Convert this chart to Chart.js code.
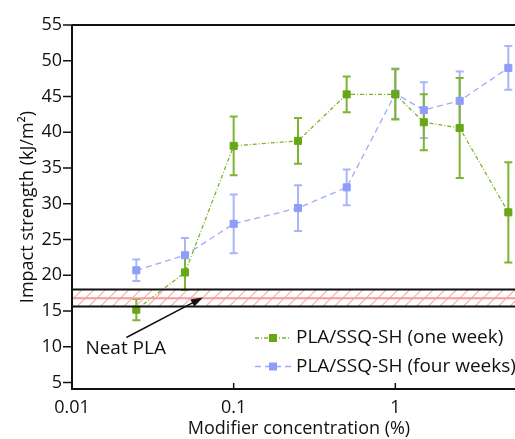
<!DOCTYPE html>
<html>
<head>
<meta charset="utf-8">
<script src="https://cdn.jsdelivr.net/npm/chart.js@4"></script>
<style>
  html, body { margin: 0; padding: 0; background: #fff; overflow: hidden; }
  #wrap { width: 515px; height: 439px; overflow: hidden; }
</style>
</head>
<body>
<div id="wrap"><canvas id="impactChart" width="527" height="439"></canvas></div>
<script>
// datos
const concentrations = [0.025, 0.05, 0.1, 0.25, 0.5, 1, 1.5, 2.5, 5];
const oneWeek = [15.2, 20.4, 38.1, 38.8, 45.3, 45.3, 41.4, 40.6, 28.8];
const oneWeekErr = [1.5, 2.45, 4.1, 3.2, 2.5, 3.5, 3.9, 7.0, 7.0];
const fourWeeks = [20.7, 22.8, 27.2, 29.4, 32.3, 45.4, 43.1, 44.4, 49.0];
const fourWeeksErr = [1.5, 2.4, 4.1, 3.2, 2.5, 3.5, 3.9, 4.1, 3.05];
const seriesLabels = ["PLA/SSQ-SH (one week)", "PLA/SSQ-SH (four weeks)"];
const xTicks = [0.01, 0.1, 1];
const yTicks = [5, 10, 15, 20, 25, 30, 35, 40, 45, 50, 55];
const neatBand = [15.65, 16.8, 18.0]; // low, mean, high
const neatLabel = "Neat PLA";

const FONT = "'Open Sans', sans-serif";
const green = "#68a616";
const greenBar = "#7db532";
const blue = "#8e9ef8";
const blueBar = "#aab5f9";

function toPoints(xs, ys) {
  return xs.map((x, i) => ({ x: x, y: ys[i] }));
}

// barras de error, banda y ejes
const extras = {
  id: "extras",
  beforeDatasetsDraw(chart) {
    const { ctx, scales: { x, y } } = chart;
    const drawErr = (vals, errs, color) => {
      ctx.save();
      ctx.strokeStyle = color;
      ctx.lineWidth = 2;
      vals.forEach((v, i) => {
        const px = x.getPixelForValue(concentrations[i]);
        const top = y.getPixelForValue(v + errs[i]);
        const bot = y.getPixelForValue(v - errs[i]);
        ctx.beginPath();
        ctx.moveTo(px, top); ctx.lineTo(px, bot);
        ctx.moveTo(px - 4, top); ctx.lineTo(px + 4, top);
        ctx.moveTo(px - 4, bot); ctx.lineTo(px + 4, bot);
        ctx.stroke();
      });
      ctx.restore();
    };
    drawErr(fourWeeks, fourWeeksErr, blueBar);
    drawErr(oneWeek, oneWeekErr, greenBar);
  },
  afterDatasetsDraw(chart) {
    const { ctx, chartArea: a, scales: { x, y } } = chart;
    // banda Neat PLA
    const yLo = y.getPixelForValue(neatBand[0]);
    const yMid = y.getPixelForValue(neatBand[1]);
    const yHi = y.getPixelForValue(neatBand[2]);
    ctx.save();
    ctx.beginPath();
    ctx.rect(a.left, yHi, a.right - a.left, yLo - yHi);
    ctx.clip();
    ctx.strokeStyle = "#f8b0b0";
    ctx.lineWidth = 1.3;
    for (let sx = a.left - 30; sx < a.right + 30; sx += 11.7) {
      ctx.beginPath();
      ctx.moveTo(sx, yLo);
      ctx.lineTo(sx + (yLo - yHi), yHi);
      ctx.stroke();
    }
    ctx.restore();
    ctx.save();
    ctx.strokeStyle = "#f59a9a";
    ctx.lineWidth = 2;
    ctx.beginPath();
    ctx.moveTo(a.left, yMid); ctx.lineTo(a.right, yMid);
    ctx.stroke();
    ctx.strokeStyle = "#111";
    ctx.lineWidth = 2;
    ctx.beginPath();
    ctx.moveTo(a.left, yHi); ctx.lineTo(a.right, yHi);
    ctx.moveTo(a.left, yLo); ctx.lineTo(a.right, yLo);
    ctx.stroke();

    // flecha
    const tx = x.getPixelForValue(0.0217), ty = y.getPixelForValue(11.3);
    const hx = x.getPixelForValue(0.0645), hy = y.getPixelForValue(16.9);
    const ang = Math.atan2(hy - ty, hx - tx);
    ctx.strokeStyle = "#111";
    ctx.fillStyle = "#111";
    ctx.lineWidth = 1.5;
    ctx.beginPath();
    ctx.moveTo(tx, ty);
    ctx.lineTo(hx - 8 * Math.cos(ang), hy - 8 * Math.sin(ang));
    ctx.stroke();
    ctx.beginPath();
    ctx.moveTo(hx, hy);
    ctx.lineTo(hx - 12 * Math.cos(ang) + 4 * Math.sin(ang), hy - 12 * Math.sin(ang) - 4 * Math.cos(ang));
    ctx.lineTo(hx - 12 * Math.cos(ang) - 4 * Math.sin(ang), hy - 12 * Math.sin(ang) + 4 * Math.cos(ang));
    ctx.closePath();
    ctx.fill();
    ctx.font = "19px " + FONT;
    ctx.textBaseline = "middle";
    ctx.textAlign = "left";
    ctx.fillText(neatLabel, x.getPixelForValue(0.0121), y.getPixelForValue(9.8));

    // marco y marcas
    ctx.strokeStyle = "#111";
    ctx.lineWidth = 2;
    ctx.beginPath();
    ctx.moveTo(a.left, a.top); ctx.lineTo(a.right, a.top);
    ctx.moveTo(a.left, a.top); ctx.lineTo(a.left, a.bottom);
    ctx.moveTo(a.left - 1, a.bottom); ctx.lineTo(a.right, a.bottom);
    ctx.stroke();
    ctx.lineWidth = 1.5;
    ctx.beginPath();
    yTicks.forEach(v => {
      const py = y.getPixelForValue(v);
      ctx.moveTo(a.left - 9, py); ctx.lineTo(a.left, py);
    });
    xTicks.forEach(v => {
      const px = x.getPixelForValue(v);
      ctx.moveTo(px, a.bottom); ctx.lineTo(px, a.bottom - 6);
    });
    ctx.stroke();

    // leyenda
    const rows = [
      { label: seriesLabels[0], color: green, line: "#7cb52a", dash: [4, 2, 1, 2] },
      { label: seriesLabels[1], color: blue, line: "#9eabf9", dash: [6, 4] }
    ];
    rows.forEach((r, i) => {
      const ly = 338 + i * 28.5;
      ctx.strokeStyle = r.line;
      ctx.lineWidth = 1.3;
      ctx.setLineDash(r.dash);
      ctx.beginPath();
      ctx.moveTo(255, ly); ctx.lineTo(291, ly);
      ctx.stroke();
      ctx.setLineDash([]);
      ctx.fillStyle = r.color;
      ctx.fillRect(269, ly - 4, 8, 8);
      ctx.fillStyle = "#111";
      ctx.font = "19px " + FONT;
      ctx.fillText(r.label, 296, ly);
    });
    ctx.restore();
  }
};

new Chart(document.getElementById("impactChart").getContext("2d"), {
  type: "line",
  data: {
    datasets: [
      {
        label: seriesLabels[0],
        data: toPoints(concentrations, oneWeek),
        borderColor: "#7cb52a",
        borderWidth: 1.3,
        borderDash: [4, 2, 1, 2],
        pointStyle: "rect",
        pointRadius: 5,
        pointBorderWidth: 1,
        pointBackgroundColor: green,
        pointBorderColor: green,
        tension: 0
      },
      {
        label: seriesLabels[1],
        data: toPoints(concentrations, fourWeeks),
        borderColor: "#9eabf9",
        borderWidth: 1.3,
        borderDash: [6, 4],
        pointStyle: "rect",
        pointRadius: 5,
        pointBorderWidth: 1,
        pointBackgroundColor: blue,
        pointBorderColor: blue,
        tension: 0
      }
    ]
  },
  options: {
    responsive: false,
    animation: false,
    layout: { autoPadding: false, padding: { top: 25, right: 1, left: 0, bottom: 0 } },
    plugins: { legend: { display: false }, tooltip: { enabled: false } },
    scales: {
      x: {
        type: "logarithmic",
        min: 0.01,
        max: 6.43,
        afterBuildTicks: s => { s.ticks = xTicks.map(v => ({ value: v })); },
        afterFit: s => { s.height = 50; s.paddingLeft = 0; s.paddingRight = 0; },
        grid: { display: false, drawTicks: false },
        border: { display: false },
        ticks: {
          color: "#111",
          font: { family: FONT, size: 18 },
          padding: 8,
          maxRotation: 0,
          autoSkip: false,
          callback: v => String(v)
        },
        title: {
          display: true,
          text: "Modifier concentration (%)",
          color: "#111",
          font: { family: FONT, size: 18, lineHeight: 1 },
          padding: { top: 0, bottom: 1 }
        }
      },
      y: {
        type: "linear",
        min: 4.1,
        max: 55,
        afterBuildTicks: s => { s.ticks = yTicks.map(v => ({ value: v })); },
        afterFit: s => { s.width = 72; s.paddingTop = 0; s.paddingBottom = 0; },
        grid: { display: false, drawTicks: false },
        border: { display: false },
        ticks: {
          color: "#111",
          font: { family: FONT, size: 18 },
          padding: 10
        },
        title: {
          display: true,
          text: "Impact strength (kJ/m²)",
          color: "#111",
          font: { family: FONT, size: 18, lineHeight: 1 },
          padding: { top: 19, bottom: 0 }
        }
      }
    }
  },
  plugins: [extras]
});
</script>
</body>
</html>
